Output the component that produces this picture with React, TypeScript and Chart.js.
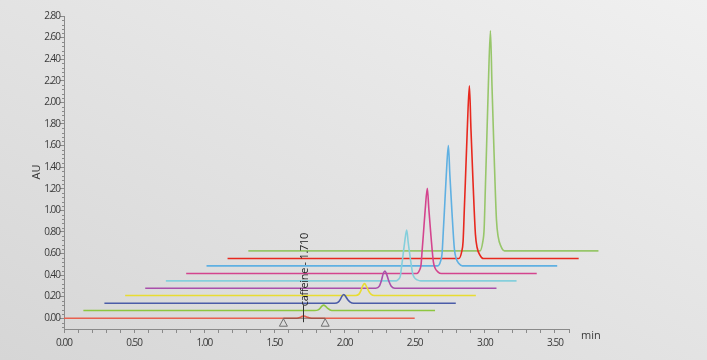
import React, { useEffect, useRef } from "react";
import { Chart, registerables } from "chart.js";

Chart.register(...registerables);

// ---------- axes ----------
const xMin = 0;
const xMax = 3.6;
const yMin = -0.1;
const yMax = 2.8;
const xMajorTicks = [0, 0.5, 1.0, 1.5, 2.0, 2.5, 3.0, 3.5];
const yMajorTicks = [0, 0.2, 0.4, 0.6, 0.8, 1.0, 1.2, 1.4, 1.6, 1.8, 2.0, 2.2, 2.4, 2.6, 2.8];
const xUnitLabel = "min";
const yUnitLabel = "AU";

// ---------- traces (x in min, y in AU) ----------
const trace1 = [
  [0.0, 0.0], [1.645, 0.0], [1.67, 0.002], [1.685, 0.009], [1.698, 0.017], [1.71, 0.02],
  [1.722, 0.016], [1.738, 0.008], [1.755, 0.002], [1.78, 0.0], [2.5, 0.0],
];
const trace2 = [
  [0.138, 0.071], [1.787, 0.071], [1.812, 0.077], [1.827, 0.094], [1.84, 0.114], [1.852, 0.121],
  [1.864, 0.111], [1.88, 0.091], [1.897, 0.077], [1.922, 0.071], [2.645, 0.071],
];
const trace3 = [
  [0.288, 0.139], [1.93, 0.139], [1.955, 0.149], [1.97, 0.175], [1.983, 0.207], [1.995, 0.219],
  [2.007, 0.203], [2.023, 0.171], [2.04, 0.149], [2.065, 0.139], [2.793, 0.139],
];
const trace4 = [
  [0.436, 0.21], [2.078, 0.21], [2.103, 0.223], [2.118, 0.26], [2.131, 0.304], [2.143, 0.32],
  [2.155, 0.298], [2.171, 0.254], [2.188, 0.223], [2.213, 0.21], [2.936, 0.21],
];
const trace5 = [
  [0.579, 0.278], [2.223, 0.278], [2.248, 0.297], [2.263, 0.35], [2.276, 0.414], [2.288, 0.438],
  [2.3, 0.406], [2.316, 0.342], [2.333, 0.297], [2.358, 0.278], [3.083, 0.278],
];
const trace6 = [
  [0.726, 0.346], [2.368, 0.346], [2.388, 0.365], [2.398, 0.393], [2.407, 0.482], [2.414, 0.553],
  [2.428, 0.699], [2.443, 0.816], [2.454, 0.699], [2.469, 0.553], [2.486, 0.412], [2.498, 0.376],
  [2.518, 0.355], [2.543, 0.346], [3.226, 0.346],
];
const trace7 = [
  [0.871, 0.414], [2.515, 0.414], [2.535, 0.446], [2.545, 0.493], [2.554, 0.643], [2.561, 0.762],
  [2.575, 1.007], [2.59, 1.204], [2.601, 1.007], [2.616, 0.762], [2.633, 0.525], [2.645, 0.465],
  [2.665, 0.43], [2.69, 0.414], [3.37, 0.414],
];
const trace8 = [
  [1.016, 0.485], [2.665, 0.485], [2.685, 0.53], [2.695, 0.597], [2.704, 0.808], [2.711, 0.976],
  [2.725, 1.321], [2.74, 1.6], [2.751, 1.321], [2.766, 0.976], [2.783, 0.641], [2.795, 0.556],
  [2.815, 0.507], [2.84, 0.485], [3.516, 0.485],
];
const trace9 = [
  [1.166, 0.553], [2.815, 0.553], [2.835, 0.617], [2.845, 0.713], [2.854, 1.017], [2.861, 1.257],
  [2.875, 1.753], [2.89, 2.153], [2.901, 1.753], [2.916, 1.257], [2.933, 0.777], [2.945, 0.655],
  [2.965, 0.585], [2.99, 0.553], [3.669, 0.553],
];
const trace10 = [
  [1.314, 0.624], [2.965, 0.624], [2.985, 0.706], [2.995, 0.828], [3.004, 1.216], [3.011, 1.522],
  [3.025, 2.154], [3.04, 2.664], [3.051, 2.154], [3.066, 1.522], [3.083, 0.91], [3.095, 0.755],
  [3.115, 0.665], [3.14, 0.624], [3.81, 0.624],
];
const traces = [trace1, trace2, trace3, trace4, trace5, trace6, trace7, trace8, trace9, trace10];
const traceColors = [
  "#e8604f", "#8dc63f", "#4b5ca8", "#e8dc32", "#a94fab",
  "#85cfdc", "#d4448e", "#5fb0e2", "#e8281e", "#97c66a",
];

// ---------- peak annotation ----------
const peakName = "caffeine";
const peakRetention = 1.71;
const peakLabel = "caffeine - 1.710";
const integrationStart = 1.564;
const integrationEnd = 1.862;

const axisColor = "#8a8a8a";
const textColor = "#3a3a3a";
const fontFamily = "'Open Sans', 'DejaVu Sans', sans-serif";

function buildMinor(from: number, to: number, step: number, majors: number[]) {
  const out: number[] = [];
  const n = Math.round((to - from) / step);
  for (let i = 0; i <= n; i++) {
    const v = Math.round((from + i * step) * 1000) / 1000;
    if (!majors.some((m) => Math.abs(m - v) < 1e-6)) out.push(v);
  }
  return out;
}
const yMinorTicks = buildMinor(-0.08, 2.76, 0.04, yMajorTicks);
const xAllTicks = buildMinor(0, 3.6, 0.1, []);

const overlayPlugin = {
  id: "overlay",
  beforeDraw(chart: any) {
    chart.ctx.letterSpacing = "-1px";
  },
  afterDraw(chart: any) {
    const { ctx, chartArea } = chart;
    const x = chart.scales.x;
    const y = chart.scales.y;
    ctx.save();
    ctx.letterSpacing = "0px";
    // minor y ticks
    ctx.strokeStyle = axisColor;
    ctx.lineWidth = 1;
    ctx.beginPath();
    for (const v of yMinorTicks) {
      const py = Math.round(y.getPixelForValue(v)) + 0.5;
      ctx.moveTo(chartArea.left - 2, py);
      ctx.lineTo(chartArea.left, py);
    }
    ctx.stroke();

    const base = y.getPixelForValue(0);
    // integration baseline
    ctx.strokeStyle = "rgba(110,70,60,0.75)";
    ctx.beginPath();
    ctx.moveTo(x.getPixelForValue(integrationStart), base);
    ctx.lineTo(x.getPixelForValue(integrationEnd), base);
    ctx.stroke();

    // triangles
    ctx.strokeStyle = "#6f6f6f";
    ctx.lineWidth = 1;
    for (const v of [integrationStart, integrationEnd]) {
      const px = x.getPixelForValue(v);
      ctx.beginPath();
      ctx.moveTo(px, base + 0.5);
      ctx.lineTo(px + 4, base + 8);
      ctx.lineTo(px - 4, base + 8);
      ctx.closePath();
      ctx.stroke();
    }

    // peak marker
    const mx = Math.round(x.getPixelForValue(peakRetention)) - 0.5;
    ctx.strokeStyle = "#333";
    ctx.beginPath();
    ctx.moveTo(mx, base - 13);
    ctx.lineTo(mx, base + 4);
    ctx.stroke();

    ctx.save();
    ctx.translate(mx + 1, base - 12);
    ctx.rotate(-Math.PI / 2);
    ctx.letterSpacing = "-0.3px";
    ctx.font = `11px ${fontFamily}`;
    ctx.fillStyle = "#1e1e1e";
    ctx.textAlign = "left";
    ctx.textBaseline = "middle";
    ctx.fillText(peakLabel, 0, 0);
    ctx.restore();

    // unit labels
    ctx.font = `11px ${fontFamily}`;
    ctx.fillStyle = textColor;
    ctx.textBaseline = "middle";
    ctx.textAlign = "left";
    ctx.fillText(xUnitLabel, chartArea.right + 12, chartArea.bottom + 7);

    ctx.save();
    ctx.translate(37, 172);
    ctx.rotate(-Math.PI / 2);
    ctx.textAlign = "center";
    ctx.fillText(yUnitLabel, 0, 0);
    ctx.restore();

    ctx.restore();
    ctx.letterSpacing = "0px";
  },
};

export default function App() {
  const ref = useRef<HTMLCanvasElement>(null);

  useEffect(() => {
    const canvas = ref.current;
    if (!canvas) return;
    const chart = new Chart(canvas, {
      type: "line",
      data: {
        datasets: traces.map((t, i) => ({
          label: i === 0 ? peakName : `trace ${i + 1}`,
          data: t.map(([px, py]) => ({ x: px, y: py })),
          borderColor: traceColors[i],
          borderWidth: 1.6,
          pointRadius: 0,
          fill: false,
          cubicInterpolationMode: "monotone" as const,
          clip: false as any,
        })),
      },
      options: {
        responsive: false,
        maintainAspectRatio: false,
        animation: false,
        events: [],
        layout: { padding: { top: 16, right: 138, bottom: 0, left: 0 } },
        plugins: { legend: { display: false }, tooltip: { enabled: false } },
        scales: {
          x: {
            type: "linear",
            min: xMin,
            max: xMax,
            afterBuildTicks: (s: any) => {
              s.ticks = xAllTicks.map((v) => ({ value: v }));
            },
            afterFit: (s: any) => {
              s.height = 31;
            },
            ticks: {
              autoSkip: false,
              maxRotation: 0,
              padding: 4,
              color: textColor,
              font: { family: fontFamily, size: 10 },
              callback: (v: any) =>
                xMajorTicks.some((m) => Math.abs(m - Number(v)) < 1e-6) ? Number(v).toFixed(2) : "",
            },
            grid: {
              drawOnChartArea: false,
              drawTicks: true,
              tickLength: 4,
              tickColor: axisColor,
              tickWidth: 1,
            },
            border: { display: true, color: axisColor, width: 1 },
          },
          y: {
            type: "linear",
            min: yMin,
            max: yMax,
            afterBuildTicks: (s: any) => {
              s.ticks = yMajorTicks.map((v) => ({ value: v }));
            },
            afterFit: (s: any) => {
              s.width = 64;
            },
            ticks: {
              autoSkip: false,
              padding: 0,
              color: textColor,
              font: { family: fontFamily, size: 10 },
              callback: (v: any) => Number(v).toFixed(2),
            },
            grid: {
              drawOnChartArea: false,
              drawTicks: true,
              tickLength: 4,
              tickColor: axisColor,
              tickWidth: 1,
            },
            border: { display: true, color: axisColor, width: 1 },
          },
        },
      },
      plugins: [overlayPlugin],
    });
    return () => chart.destroy();
  }, []);

  return (
    <div
      style={{
        position: "fixed",
        left: 0,
        top: 0,
        width: 707,
        height: 360,
        background: "linear-gradient(to bottom left, #f0f0f0, #d6d6d6)",
      }}
    >
      <canvas ref={ref} width={707} height={360} style={{ display: "block" }} />
    </div>
  );
}
